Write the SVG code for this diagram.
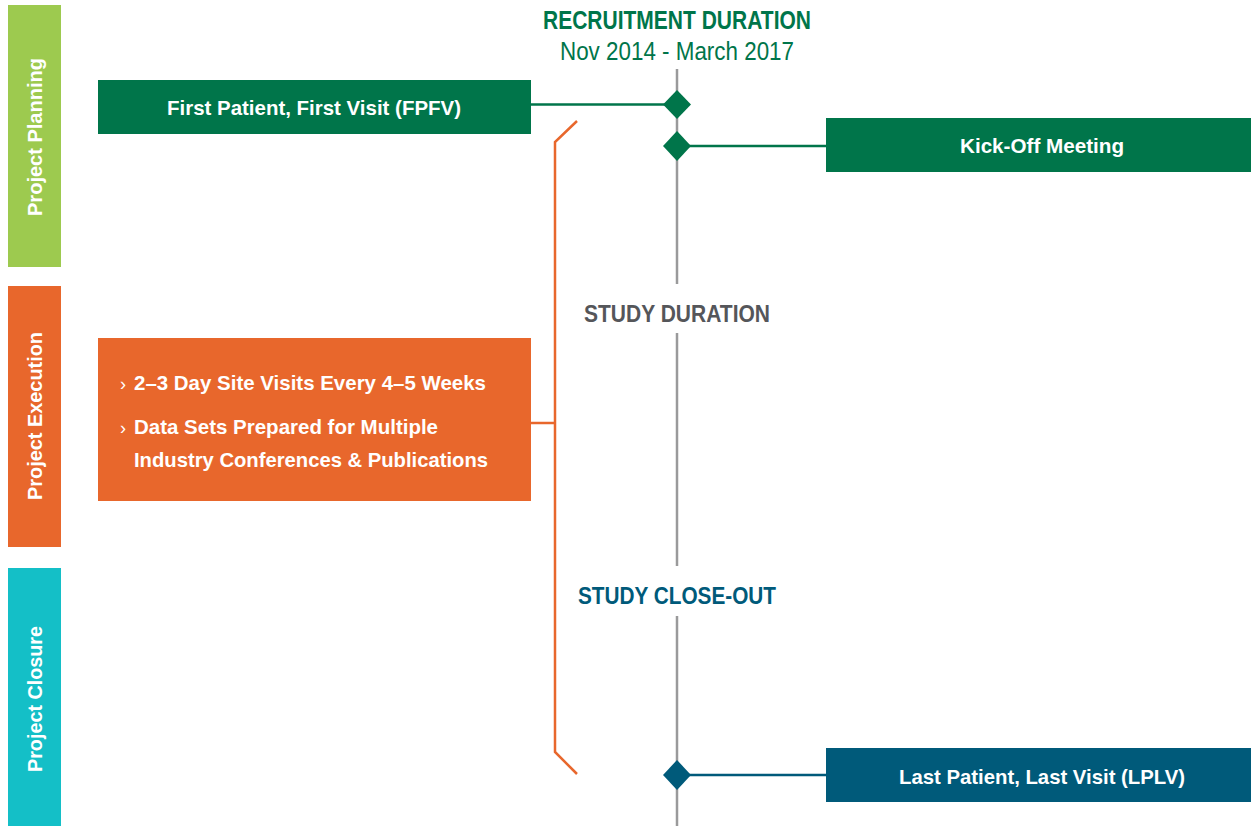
<svg xmlns="http://www.w3.org/2000/svg" width="1251" height="826" viewBox="0 0 1251 826">
<style>
.b{font-family:"Liberation Sans",Arial,sans-serif;font-weight:bold}
.r{font-family:"Liberation Sans",Arial,sans-serif}
.w{fill:#ffffff}
.side{font-family:"Liberation Sans",Arial,sans-serif;font-weight:bold;font-size:20px;fill:#ffffff}
.axis{stroke:#9a9a9b;stroke-width:2.5;fill:none}
.orange{stroke:#e8672c;stroke-width:2.5;fill:none}
</style>
<rect width="1251" height="826" fill="#ffffff"/>
<g id="phase-planning">
<rect x="8" y="5" width="53" height="262" fill="#9dca4f"/>
<text class="side" transform="translate(42,137) rotate(-90)" text-anchor="middle" textLength="158" lengthAdjust="spacingAndGlyphs">Project Planning</text>
</g>
<g id="phase-execution">
<rect x="8" y="286" width="53" height="261" fill="#e8672c"/>
<text class="side" transform="translate(42,416) rotate(-90)" text-anchor="middle" textLength="168" lengthAdjust="spacingAndGlyphs">Project Execution</text>
</g>
<g id="phase-closure">
<rect x="8" y="568" width="53" height="258" fill="#14bfc7"/>
<text class="side" transform="translate(42,699) rotate(-90)" text-anchor="middle" textLength="146" lengthAdjust="spacingAndGlyphs">Project Closure</text>
</g>
<g id="title">
<text class="b" x="677" y="29" font-size="25" fill="#00754a" text-anchor="middle" textLength="268" lengthAdjust="spacingAndGlyphs">RECRUITMENT DURATION</text>
<text class="r" x="677" y="60" font-size="25" fill="#00754a" text-anchor="middle" textLength="234" lengthAdjust="spacingAndGlyphs">Nov 2014 - March 2017</text>
</g>
<g id="connectors">
<line class="axis" x1="677" y1="69" x2="677" y2="284"/>
<line class="axis" x1="677" y1="333" x2="677" y2="566"/>
<line class="axis" x1="677" y1="616" x2="677" y2="826"/>
<line x1="531" y1="104.5" x2="670" y2="104.5" stroke="#00754a" stroke-width="2.5"/>
<line x1="684" y1="146" x2="826" y2="146" stroke="#00754a" stroke-width="2.5"/>
<line x1="684" y1="775" x2="826" y2="775" stroke="#005a7a" stroke-width="2.5"/>
<polyline class="orange" points="577,121 555,142 555,752 577,774"/>
<line class="orange" x1="531" y1="423" x2="555" y2="423"/>
</g>
<g id="milestone-fpfv">
<polygon points="677,90 691,104.5 677,119 663,104.5" fill="#00754a"/>
</g>
<g id="milestone-kickoff">
<polygon points="677,131 691,146 677,161 663,146" fill="#00754a"/>
</g>
<g id="milestone-lplv">
<polygon points="677,760 691,775 677,790 663,775" fill="#005a7a"/>
</g>
<g id="node-fpfv">
<rect x="98" y="80" width="433" height="54" fill="#00754a"/>
<text class="b w" x="314" y="115" font-size="21" text-anchor="middle" textLength="294" lengthAdjust="spacingAndGlyphs">First Patient, First Visit (FPFV)</text>
</g>
<g id="node-kickoff">
<rect x="826" y="118" width="425" height="54" fill="#00754a"/>
<text class="b w" x="1042" y="153" font-size="21" text-anchor="middle" textLength="164" lengthAdjust="spacingAndGlyphs">Kick-Off Meeting</text>
</g>
<g id="label-study-duration">
<text class="b" x="677" y="322" font-size="24" fill="#55565a" text-anchor="middle" textLength="186" lengthAdjust="spacingAndGlyphs">STUDY DURATION</text>
</g>
<g id="node-execution">
<rect x="98" y="338" width="433" height="163" fill="#e8672c"/>
<text class="r w" x="120" y="390" font-size="18">›</text>
<text class="b w" x="134" y="390" font-size="21" textLength="352" lengthAdjust="spacingAndGlyphs">2–3 Day Site Visits Every 4–5 Weeks</text>
<text class="r w" x="120" y="434" font-size="18">›</text>
<text class="b w" x="134" y="434" font-size="21" textLength="304" lengthAdjust="spacingAndGlyphs">Data Sets Prepared for Multiple</text>
<text class="b w" x="134" y="467" font-size="21" textLength="354" lengthAdjust="spacingAndGlyphs">Industry Conferences &amp; Publications</text>
</g>
<g id="label-study-closeout">
<text class="b" x="677" y="604" font-size="24" fill="#005a7a" text-anchor="middle" textLength="198" lengthAdjust="spacingAndGlyphs">STUDY CLOSE-OUT</text>
</g>
<g id="node-lplv">
<rect x="826" y="748" width="425" height="54" fill="#005a7a"/>
<text class="b w" x="1042" y="784" font-size="21" text-anchor="middle" textLength="286" lengthAdjust="spacingAndGlyphs">Last Patient, Last Visit (LPLV)</text>
</g>
</svg>
